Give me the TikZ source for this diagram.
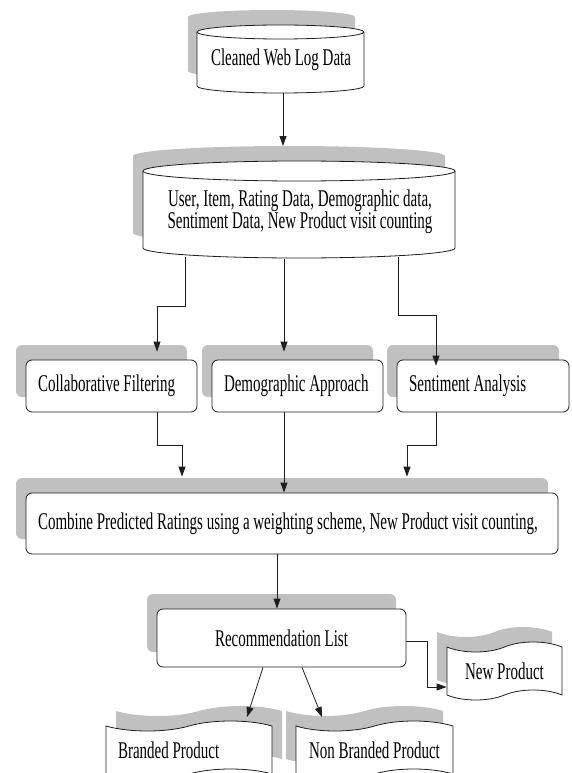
\documentclass[tikz,border=0pt]{standalone}
\usepackage{fontspec}
\setmainfont{Liberation Serif}[FakeStretch=0.625]
\usetikzlibrary{shapes.symbols,shadows,arrows.meta,calc}
\definecolor{shd}{RGB}{192,192,192}
\definecolor{ink}{RGB}{30,30,30}
\newcommand{\cylshape}[6]{%
  \pgfmathsetmacro{\cyla}{(#3-#2)/2}%
  \path[#1] (#2,#4) -- (#2,#5) arc[start angle=180,end angle=360,x radius=\cyla pt,y radius=#6pt]
     -- (#3,#4) arc[start angle=0,end angle=180,x radius=\cyla pt,y radius=#6pt] -- cycle;
}
\tikzset{
  ln/.style={draw=ink, line width=0.8pt},
  arr/.style={ln, -{Triangle[length=10pt,width=7pt]}},
  shadowL/.style={drop shadow={shadow xshift=-10pt, shadow yshift=15pt, shadow scale=1, fill=shd, opacity=1}},
  shadowR/.style={drop shadow={shadow xshift=10pt, shadow yshift=15pt, shadow scale=1, fill=shd, opacity=1}},
  box/.style={draw=ink, line width=0.8pt, fill=white, rounded corners=6pt, minimum height=52pt,
     inner xsep=12pt, inner ysep=4pt, align=flush left, shadowL},
  doc/.style={tape, draw=ink, line width=0.8pt, fill=white, tape bend height=10pt,
     inner xsep=12pt},
  txt/.style={inner sep=0pt, align=center}
}
\begin{document}
\begin{tikzpicture}[x=1pt,y=-1pt, font=\fontsize{24}{22}\selectfont]
\useasboundingbox (0,0) rectangle (571,773);
\clip (0,0) rectangle (571,773);
\fill[white] (0,0) rectangle (571,773);

% cylinder 1
\cylshape{fill=shd, xshift=-9pt, yshift=15pt}{197}{364}{32}{86}{7}
\cylshape{draw=ink, fill=white, line width=0.8pt}{197}{364}{32}{86}{7}
\draw[ln] (197,32) arc[start angle=180,end angle=360,x radius=83.5pt,y radius=7pt];
\node[txt] (cyl1) at (281,60) {Cleaned Web Log Data};

% cylinder 2
\cylshape{fill=shd, xshift=-10pt, yshift=15pt}{143}{455}{171}{248}{10}
\cylshape{draw=ink, fill=white, line width=0.8pt}{143}{455}{171}{248}{10}
\draw[ln] (143,171) arc[start angle=180,end angle=360,x radius=156pt,y radius=10pt];
\node[txt] (cyl2) at (300,212) {User, Item, Rating Data, Demographic data,\\ Sentiment Data, New Product visit counting};

\coordinate (c1b) at (283,93);
\coordinate (c2t) at (283,146);
\coordinate (c2l) at (185,257);
\coordinate (c2m) at (284,259);
\coordinate (c2r) at (398,257);

% middle row
\node[box, text width=147pt] (cf) at (111.5,386) {Collaborative Filtering};
\node[box, text width=147pt] (da) at (297.5,386) {Demographic Approach};
\node[box, text width=148pt] (sa) at (483,386) {Sentiment Analysis};

% combine
\node[box, text width=508pt, minimum height=61pt] (comb) at (292,523.5) {Combine Predicted Ratings using a weighting scheme, New Product visit counting,};

% recommendation
\node[box, align=flush center, text width=225pt, minimum height=58pt] (rec) at (281.5,638) {Recommendation List};

% documents
\node[doc, shadowL, align=flush center, minimum width=115pt, minimum height=58pt] (np) at (504.5,671) {New Product};
\node[doc, shadowR, align=flush left, text width=142pt, minimum height=58pt] (bp) at (189,750) {Branded Product};
\node[doc, shadowL, align=flush center, minimum width=157pt, minimum height=58pt] (nbp) at (374.5,750) {Non Branded Product};

% connectors
\draw[arr] (c1b) -- (c2t);
\draw[arr] (c2l) -- (185,306) -- (157,306) -- ($(cf.north -| 157,0)+(0,-8)$);
\draw[arr] (c2m) -- ($(da.north -| 284,0)+(0,-8)$);
\draw[arr] (c2r) -- (398,315) -- (436,315) -- ($(sa.north -| 436,0)+(0,6)$);
\draw[arr] (cf.south -| 157,0) -- (157,445) -- (182,445) -- ($(comb.north -| 182,0)+(0,-16)$);
\draw[arr] (da.south -| 284,0) -- (comb.north -| 284,0);
\draw[arr] (sa.south -| 436,0) -- (436,445) -- (407,445) -- ($(comb.north -| 407,0)+(0,-16)$);
\draw[arr] (comb.south -| 277,0) -- (rec.north -| 277,0);
\draw[arr] (rec.south -| 263,0) -- (247,717);
\draw[arr] (rec.south -| 302,0) -- (322,717);
\draw[arr] (rec.east |- 0,641) -- (427,641) -- (427,687) -- (np.west |- 0,687);
\end{tikzpicture}
\end{document}
